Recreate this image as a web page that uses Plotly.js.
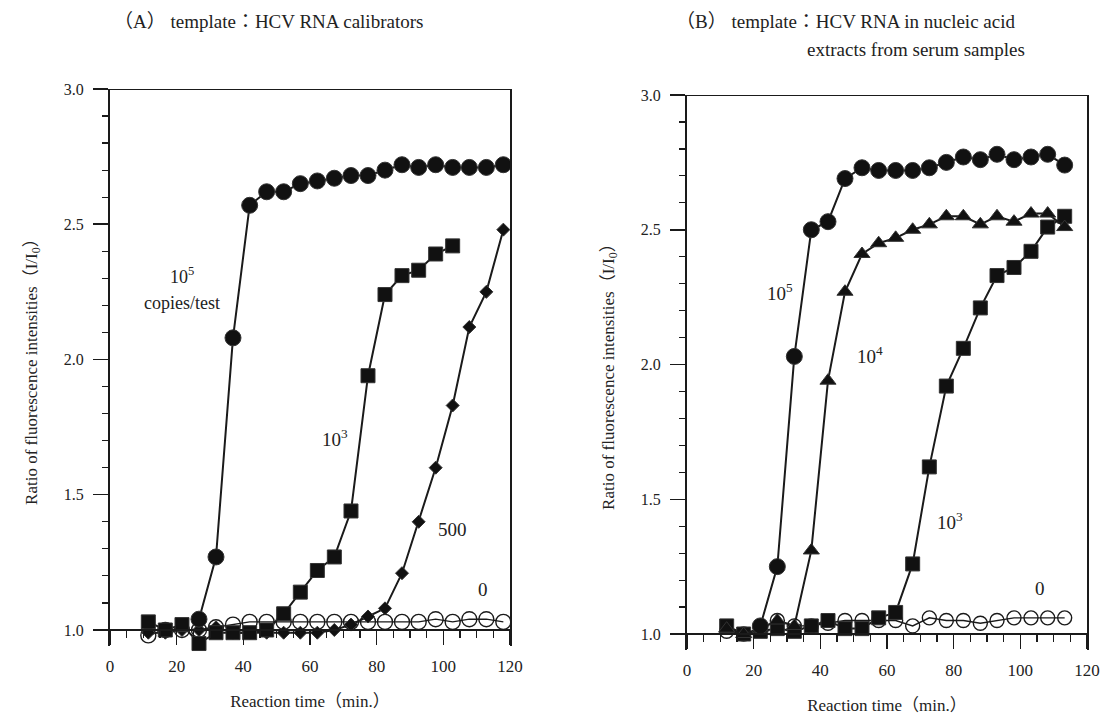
<!DOCTYPE html>
<html>
<head>
<meta charset="utf-8">
<script src="https://cdn.plot.ly/plotly-3.0.1.min.js"></script>
<style>html,body{margin:0;padding:0;background:#fff;}#chart{width:1102px;height:717px;}</style>
</head>
<body>
<div id="chart"></div>
<script>
// Panel A: HCV RNA calibrators
const timeA = [11.5,16.6,21.6,26.7,31.8,36.9,41.9,47.0,52.1,57.1,62.2,67.3,72.3,77.4,82.5,87.6,92.6,97.7,102.8,107.8,112.9,118.0];
const a_1e5 = [null,null,null,1.04,1.27,2.08,2.57,2.62,2.62,2.65,2.66,2.67,2.68,2.68,2.70,2.72,2.71,2.72,2.71,2.71,2.71,2.72];
const a_1e3 = [1.03,1.00,1.02,0.95,0.99,0.99,0.99,1.00,1.06,1.14,1.22,1.27,1.44,1.94,2.24,2.31,2.33,2.39,2.42,null,null,null];
const a_500 = [0.99,0.99,1.00,1.00,1.01,0.99,0.99,0.99,0.99,0.99,0.99,1.00,1.02,1.05,1.08,1.21,1.40,1.60,1.83,2.12,2.25,2.48];
const a_0   = [0.98,1.00,1.00,1.00,1.01,1.02,1.03,1.03,1.03,1.03,1.03,1.03,1.03,1.03,1.03,1.03,1.03,1.04,1.03,1.04,1.04,1.03];

// Panel B: HCV RNA in nucleic acid extracts from serum samples
const timeB = [11.9,17.0,22.0,27.1,32.2,37.3,42.3,47.4,52.5,57.5,62.6,67.7,72.7,77.8,82.9,88.0,93.0,98.1,103.2,108.2,113.3];
const b_1e5 = [null,null,1.03,1.25,2.03,2.50,2.53,2.69,2.73,2.72,2.72,2.72,2.73,2.75,2.77,2.76,2.78,2.76,2.77,2.78,2.74];
const b_1e4 = [1.02,1.00,1.02,1.05,1.03,1.31,1.94,2.27,2.41,2.45,2.47,2.50,2.52,2.55,2.55,2.52,2.55,2.53,2.56,2.56,2.51];
const b_1e3 = [1.03,1.00,1.01,1.02,1.01,1.03,1.05,1.02,1.02,1.06,1.08,1.26,1.62,1.92,2.06,2.21,2.33,2.36,2.42,2.51,2.55];
const b_0   = [1.01,1.00,1.02,1.05,1.03,1.03,1.04,1.05,1.05,1.05,1.05,1.03,1.06,1.05,1.05,1.04,1.05,1.06,1.06,1.06,1.06];

const xTicks = [0,20,40,60,80,100,120];
const yTicks = [1.0,1.5,2.0,2.5,3.0];

const FONT = '"Liberation Serif","DejaVu Serif","Noto Sans CJK JP",serif';
const INK = '#1a1a1a';
const TXT = '#222';

function series(x, y, xa, ya, symbol, size, lw, open) {
  return {
    x: x, y: y, xaxis: xa, yaxis: ya, type: 'scatter', mode: 'lines+markers',
    cliponaxis: false, showlegend: false, hoverinfo: 'x+y',
    line: {color: INK, width: lw},
    marker: open
      ? {symbol: symbol, size: size, color: INK, line: {color: INK, width: 1.4}}
      : {symbol: symbol, size: size, color: '#111', line: {color: '#333', width: 1}}
  };
}

const data = [
  series(timeA, a_0,   'x',  'y',  'circle-open', 15, 1.4, true),
  series(timeA, a_500, 'x',  'y',  'diamond', 10, 2, false),
  series(timeA, a_1e3, 'x',  'y',  'square', 14, 2, false),
  series(timeA, a_1e5, 'x',  'y',  'circle', 16, 2, false),
  series(timeB, b_0,   'x2', 'y2', 'circle-open', 14, 1.4, true),
  series(timeB, b_1e3, 'x2', 'y2', 'square', 14, 2, false),
  series(timeB, b_1e4, 'x2', 'y2', 'triangle-up', 14, 2, false),
  series(timeB, b_1e5, 'x2', 'y2', 'circle', 16, 2, false)
];

// x axis sits at y = 1.0; y axis range goes a little lower so sub-1.0 markers show
function xAxis(domain, pos) {
  return {
    domain: domain, anchor: 'free', position: pos, range: [0, 120],
    tickvals: xTicks, ticktext: xTicks.map(String),
    ticks: 'outside', ticklen: 14, tickwidth: 1.5, tickcolor: INK,
    minor: {dtick: 5, ticks: 'outside', ticklen: 7, tickwidth: 1.2, tickcolor: INK},
    showline: true, linewidth: 2, linecolor: INK,
    showgrid: false, zeroline: false, ticklabelstandoff: 7,
    tickfont: {family: FONT, size: 17, color: TXT},
    title: {text: 'Reaction time（min.）', font: {family: FONT, size: 17, color: TXT}, standoff: 19},
    automargin: false, fixedrange: true
  };
}
function yAxis(domain, anchor) {
  return {
    domain: domain, anchor: anchor, range: [0.94, 3.0],
    tickvals: yTicks, ticktext: yTicks.map(v => v.toFixed(1)),
    ticks: 'outside', ticklen: 15, tickwidth: 1.5, tickcolor: INK,
    minor: {dtick: 0.1, ticks: 'outside', ticklen: 6, tickwidth: 1.2, tickcolor: INK},
    showline: true, linewidth: 2, linecolor: INK, mirror: true,
    showgrid: false, zeroline: false, ticklabelstandoff: 6,
    tickfont: {family: FONT, size: 16, color: TXT},
    title: {text: 'Ratio of fluorescence intensities（I/I<sub>0</sub>）', font: {family: FONT, size: 17, color: TXT}, standoff: 22},
    automargin: false, fixedrange: true
  };
}

function lab(text, x, y, xr, yr, size, ya) {
  return {text: text, x: x, y: y, xref: xr, yref: yr, showarrow: false,
          font: {family: FONT, size: size || 19, color: TXT}, xanchor: 'center', yanchor: ya || 'middle'};
}
function ptxt(text, x, y, anchor) {
  return {text: text, x: x, y: y, xref: 'paper', yref: 'paper', showarrow: false,
          font: {family: FONT, size: 19, color: TXT}, xanchor: anchor, yanchor: 'middle'};
}
function topLine(xr, yr) {
  return {type: 'line', xref: xr + ' domain', yref: yr, x0: 0, x1: 1, y0: 3.0, y1: 3.0,
          line: {color: INK, width: 2}};
}

const layout = {
  width: 1102, height: 717,
  margin: {l: 0, r: 0, t: 0, b: 0},
  paper_bgcolor: '#fff', plot_bgcolor: '#fff',
  showlegend: false,
  xaxis:  xAxis([0.0998, 0.4628], 0.1213),
  yaxis:  yAxis([0.0987, 0.8759], 'x'),
  xaxis2: xAxis([0.6234, 0.9864], 0.1158),
  yaxis2: yAxis([0.0932, 0.8675], 'x2'),
  shapes: [topLine('x', 'y'), topLine('x2', 'y2')],
  annotations: [
    lab('10<sup>5</sup>', 21.5, 2.26, 'x', 'y', 18, 'bottom'),
    lab('copies/test', 21.5, 2.255, 'x', 'y', 18, 'top'),
    lab('10<sup>3</sup>', 67.4, 1.71, 'x', 'y'),
    lab('500', 102.8, 1.37, 'x', 'y'),
    lab('0', 111.8, 1.15, 'x', 'y'),
    lab('10<sup>5</sup>', 27.9, 2.27, 'x2', 'y2'),
    lab('10<sup>4</sup>', 54.9, 2.035, 'x2', 'y2'),
    lab('10<sup>3</sup>', 78.9, 1.42, 'x2', 'y2'),
    lab('0', 105.9, 1.17, 'x2', 'y2'),
    ptxt('（A） template：HCV RNA calibrators', 112/1102, 1 - 22/717, 'left'),
    ptxt('（B） template：HCV RNA in nucleic acid', 674/1102, 1 - 22/717, 'left'),
    ptxt('extracts from serum samples', 805/1102, 1 - 50/717, 'left')
  ]
};

Plotly.newPlot('chart', data, layout, {displayModeBar: false, staticPlot: true});
</script>
</body>
</html>
